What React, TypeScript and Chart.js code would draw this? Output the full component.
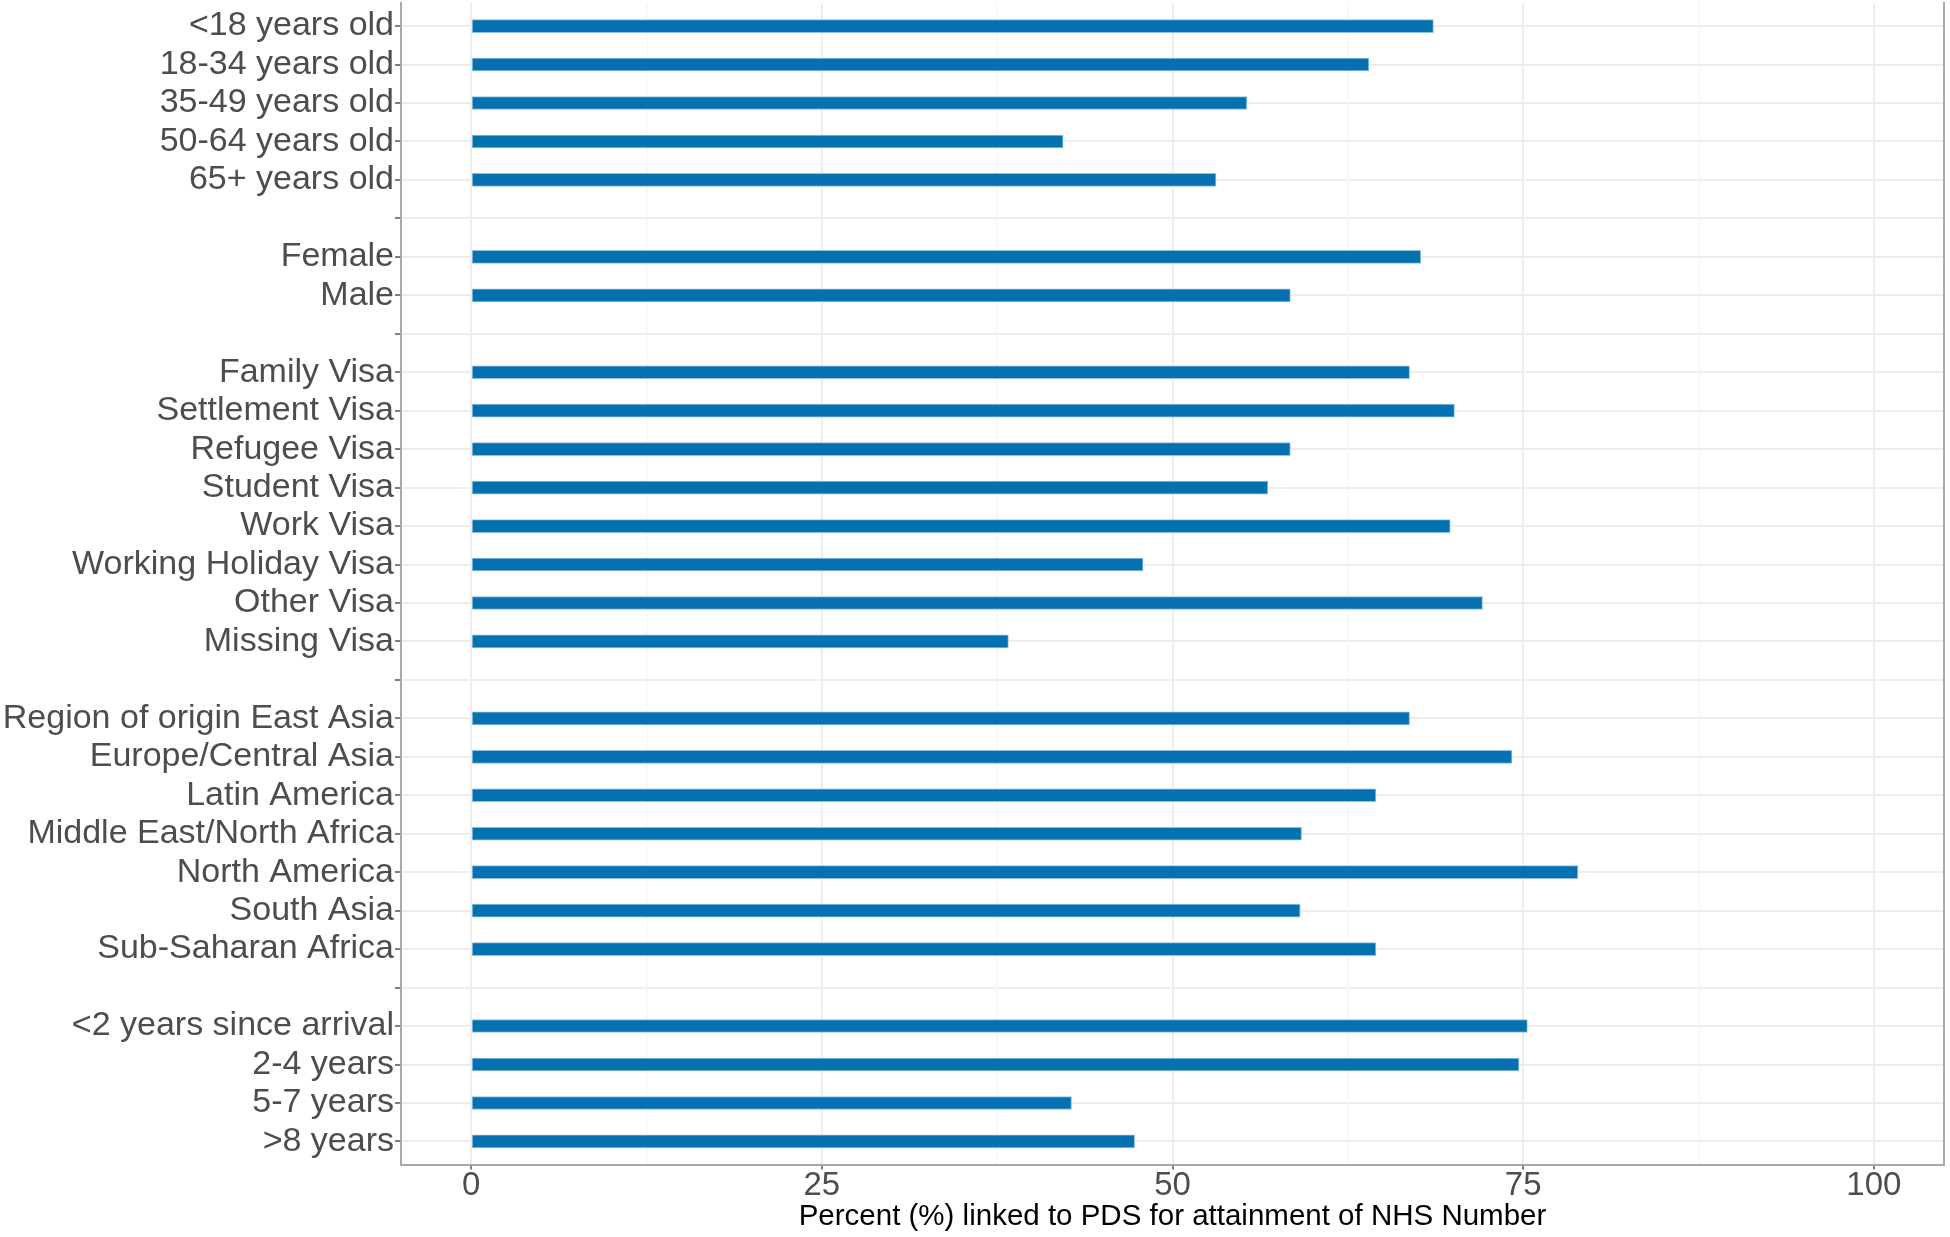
import { useEffect, useRef } from "react";
import { Chart, registerables } from "chart.js";

Chart.register(...registerables);

// "" = empty slot between groups (still gets a tick and a grid line)
const categories = [
  "<18 years old",
  "18-34 years old",
  "35-49 years old",
  "50-64 years old",
  "65+ years old",
  "",
  "Female",
  "Male",
  "",
  "Family Visa",
  "Settlement Visa",
  "Refugee Visa",
  "Student Visa",
  "Work Visa",
  "Working Holiday Visa",
  "Other Visa",
  "Missing Visa",
  "",
  "Region of origin East Asia",
  "Europe/Central Asia",
  "Latin America",
  "Middle East/North Africa",
  "North America",
  "South Asia",
  "Sub-Saharan Africa",
  "",
  "<2 years since arrival",
  "2-4 years",
  "5-7 years",
  ">8 years",
];

const percentLinked: (number | null)[] = [
  68.6, 64.0, 55.3, 42.2, 53.1, null,
  67.7, 58.4, null,
  66.9, 70.1, 58.4, 56.8, 69.8, 47.9, 72.1, 38.3, null,
  66.9, 74.2, 64.5, 59.2, 78.9, 59.1, 64.5, null,
  75.3, 74.7, 42.8, 47.3,
];

const xGridValues = [0, 12.5, 25, 37.5, 50, 62.5, 75, 87.5, 100];
const xTickLabels = [0, 25, 50, 75, 100];

const FONT = "'Liberation Sans', Arial, Helvetica, sans-serif";
const AXIS_LINE = "#a9a9a9";

export default function App() {
  const canvasRef = useRef<HTMLCanvasElement>(null);
  const chartRef = useRef<Chart | null>(null);

  useEffect(() => {
    document.body.style.margin = "0";
    if (!canvasRef.current) return;
    chartRef.current?.destroy();

    const points = percentLinked
      .map((v, i) => (v === null ? null : { x: v, y: i }))
      .filter((p): p is { x: number; y: number } => p !== null);

    const isMajor = (v: number) => xTickLabels.includes(v);

    chartRef.current = new Chart(canvasRef.current, {
      type: "bar",
      data: {
        datasets: [
          {
            data: points,
            backgroundColor: "#0571b1",
            borderColor: "#8fc0e2",
            borderWidth: 1,
            borderSkipped: false,
            barThickness: 13,
          },
        ],
      },
      options: {
        indexAxis: "y",
        animation: false,
        responsive: true,
        maintainAspectRatio: false,
        layout: { padding: { top: 3, right: 6, left: 0, bottom: 0 } },
        plugins: { legend: { display: false }, tooltip: { enabled: false } },
        scales: {
          y: {
            type: "linear",
            reverse: true,
            offset: false,
            min: -0.6,
            max: categories.length - 0.4,
            afterBuildTicks: (scale) => {
              scale.ticks = categories.map((_, i) => ({ value: i }));
            },
            afterFit: (scale) => {
              scale.width = 401;
              // labels sit well inside the panel, no extra room needed
              scale.paddingTop = 0;
              scale.paddingBottom = 0;
            },
            ticks: {
              autoSkip: false,
              padding: 1,
              color: "#4d4d4d",
              font: { family: FONT, size: 34 },
              callback: (v) => categories[Number(v)] ?? "",
            },
            grid: {
              offset: false,
              color: "#ededed",
              lineWidth: 2,
              tickColor: "#555555",
              tickWidth: 1.5,
              tickLength: 6,
            },
            border: { display: true, color: AXIS_LINE, width: 2 },
          },
          x: {
            type: "linear",
            min: -5,
            max: 105,
            afterBuildTicks: (scale) => {
              scale.ticks = xGridValues.map((v) => ({ value: v }));
            },
            afterFit: (scale) => {
              scale.height = 72.5;
            },
            ticks: {
              autoSkip: false,
              maxRotation: 0,
              padding: -3.5,
              color: "#4d4d4d",
              font: { family: FONT, size: 33 },
              callback: (v) => (isMajor(Number(v)) ? String(v) : ""),
            },
            grid: {
              color: (ctx) => (isMajor(ctx.tick?.value) ? "#ededed" : "#f6f6f6"),
              lineWidth: (ctx) => (isMajor(ctx.tick?.value) ? 2 : 1.5),
              tickColor: (ctx) => (isMajor(ctx.tick?.value) ? "#555555" : "rgba(0,0,0,0)"),
              tickWidth: 1.5,
              tickLength: 5,
            },
            border: { display: true, color: AXIS_LINE, width: 2 },
            title: {
              display: true,
              text: "Percent (%) linked to PDS for attainment of NHS Number",
              color: "#000000",
              font: { family: FONT, size: 29.5 },
              padding: { top: 0, bottom: 2 },
            },
          },
          // right-hand panel edge
          yRight: {
            type: "linear",
            position: "right",
            afterFit: (scale) => {
              scale.width = 0;
              scale.paddingTop = 0;
              scale.paddingBottom = 0;
            },
            ticks: { display: false },
            grid: { drawOnChartArea: false, drawTicks: false },
            border: { display: true, color: AXIS_LINE, width: 2 },
          },
        },
      },
    });

    return () => {
      chartRef.current?.destroy();
    };
  }, []);

  return (
    <div style={{ width: 1950, height: 1237, background: "#ffffff" }}>
      <canvas ref={canvasRef} />
    </div>
  );
}
